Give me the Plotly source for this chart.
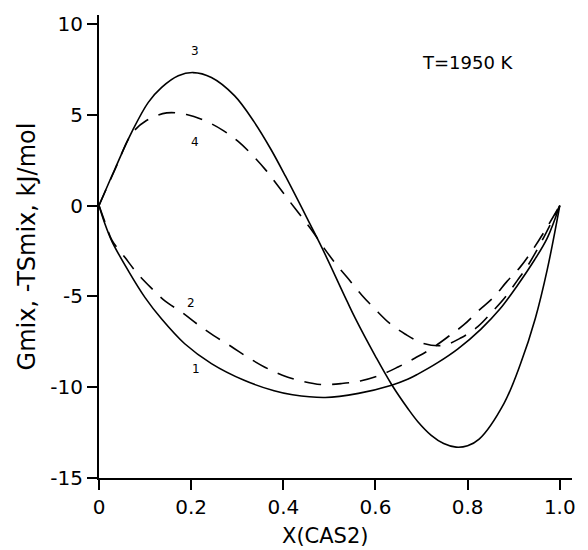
import plotly.graph_objects as go

# Curve 1: -T*Smix (solid, lower)
x1 = [0, 0.012, 0.028, 0.064, 0.10, 0.136, 0.186, 0.244, 0.315, 0.38, 0.42, 0.491, 0.563, 0.635, 0.671, 0.692, 0.735, 0.779, 0.829, 0.87, 0.908, 0.945, 0.973, 1.0]
y1 = [0, -0.95, -1.97, -3.61, -5.07, -6.25, -7.61, -8.70, -9.62, -10.20, -10.42, -10.57, -10.34, -9.89, -9.55, -9.28, -8.65, -7.89, -6.80, -5.70, -4.40, -3.00, -1.78, 0]

# Curve 2: -T*Smix (dashed, lower)
x2 = [0, 0.015, 0.028, 0.057, 0.082, 0.111, 0.143, 0.18, 0.215, 0.249, 0.287, 0.322, 0.36, 0.398, 0.441, 0.481, 0.527, 0.567, 0.61, 0.649, 0.687, 0.723, 0.761, 0.792, 0.825, 0.856, 0.885, 0.914, 0.94, 0.969, 1.0]
y2 = [0, -1.05, -1.90, -2.88, -3.70, -4.48, -5.25, -5.88, -6.56, -7.16, -7.76, -8.34, -8.90, -9.34, -9.67, -9.85, -9.80, -9.66, -9.34, -8.89, -8.38, -7.85, -7.16, -6.56, -5.76, -5.06, -4.19, -3.39, -2.48, -1.33, 0]

# Curve 3: Gmix (solid, upper)
x3 = [0, 0.035, 0.071, 0.107, 0.136, 0.172, 0.204, 0.244, 0.294, 0.337, 0.373, 0.405, 0.455, 0.484, 0.538, 0.556, 0.60, 0.635, 0.671, 0.692, 0.721, 0.748, 0.775, 0.80, 0.825, 0.879, 0.915, 0.947, 0.973, 1.0]
y3 = [0, 2.04, 4.04, 5.68, 6.50, 7.14, 7.32, 7.05, 6.05, 4.59, 3.10, 1.60, -0.87, -2.33, -5.25, -6.20, -8.30, -9.85, -11.20, -11.90, -12.65, -13.10, -13.30, -13.22, -12.86, -10.89, -8.70, -6.20, -3.50, 0]

# Curve 4: Gmix (dashed, upper)
x4 = [0, 0.035, 0.071, 0.103, 0.147, 0.19, 0.229, 0.269, 0.302, 0.333, 0.362, 0.387, 0.414, 0.439, 0.466, 0.488, 0.516, 0.542, 0.57, 0.599, 0.631, 0.664, 0.703, 0.746, 0.786, 0.822, 0.854, 0.881, 0.908, 0.93, 0.96, 1.0]
y4 = [0, 2.00, 3.95, 4.68, 5.10, 5.01, 4.68, 4.14, 3.53, 2.77, 1.95, 1.13, 0.22, -0.60, -1.51, -2.33, -3.28, -4.06, -4.92, -5.70, -6.49, -7.07, -7.58, -7.70, -7.28, -6.67, -5.83, -5.06, -4.12, -3.33, -2.00, 0]

curve_labels = ["1", "2", "3", "4"]
label_x = [0.211, 0.200, 0.208, 0.208]
label_y = [-8.98, -5.39, 8.50, 3.50]

x_ticks = [0, 0.2, 0.4, 0.6, 0.8, 1.0]
x_ticktext = ["0", "0.2", "0.4", "0.6", "0.8", "1.0"]
y_ticks = [10, 5, 0, -5, -10, -15]
y_ticktext = ["10", "5", "0", "-5", "-10", "-15"]

FONT = "DejaVu Sans, Liberation Sans, Arial, sans-serif"
DASH = "17px,11px"

fig = go.Figure()
series = [(x1, y1, "solid"), (x2, y2, DASH), (x3, y3, "solid"), (x4, y4, DASH)]
for xs, ys, dash in series:
    fig.add_trace(go.Scatter(
        x=xs, y=ys, mode="lines",
        line=dict(color="black", width=1.6, dash=dash, shape="spline", smoothing=1.0),
        showlegend=False, hoverinfo="skip",
    ))

for t, lx, ly in zip(curve_labels, label_x, label_y):
    fig.add_annotation(x=lx, y=ly, text=t, showarrow=False,
                       font=dict(family=FONT, size=12, color="black"))

fig.add_annotation(x=0.80, y=7.85, text="T=1950 K", showarrow=False,
                   font=dict(family=FONT, size=18, color="black"))

# x-axis title placed below the tick labels
fig.add_annotation(x=0.492, xref="x", y=-0.125, yref="paper", text="X(CAS2)",
                   showarrow=False, yanchor="middle",
                   font=dict(family=FONT, size=21, color="black"))

fig.update_layout(
    width=588, height=550,
    margin=dict(l=99, r=13, t=12, b=72),
    plot_bgcolor="white", paper_bgcolor="white",
    font=dict(family=FONT, color="black"),
    xaxis=dict(
        range=[0, 1.0265], tickvals=x_ticks, ticktext=x_ticktext,
        showgrid=False, zeroline=False, showline=True, linecolor="black", linewidth=2,
        ticks="outside", ticklen=10, tickwidth=2, tickcolor="black",
        tickfont=dict(family=FONT, size=20),
    ),
    yaxis=dict(
        range=[-15, 10.49], tickvals=y_ticks, ticktext=y_ticktext,
        showgrid=False, zeroline=False, showline=True, linecolor="black", linewidth=2,
        ticks="outside", ticklen=10, tickwidth=2, tickcolor="black",
        tickfont=dict(family=FONT, size=20),
        title=dict(text="Gmix, -TSmix, kJ/mol", font=dict(family=FONT, size=24), standoff=8),
    ),
)

fig.write_html("out.html")
